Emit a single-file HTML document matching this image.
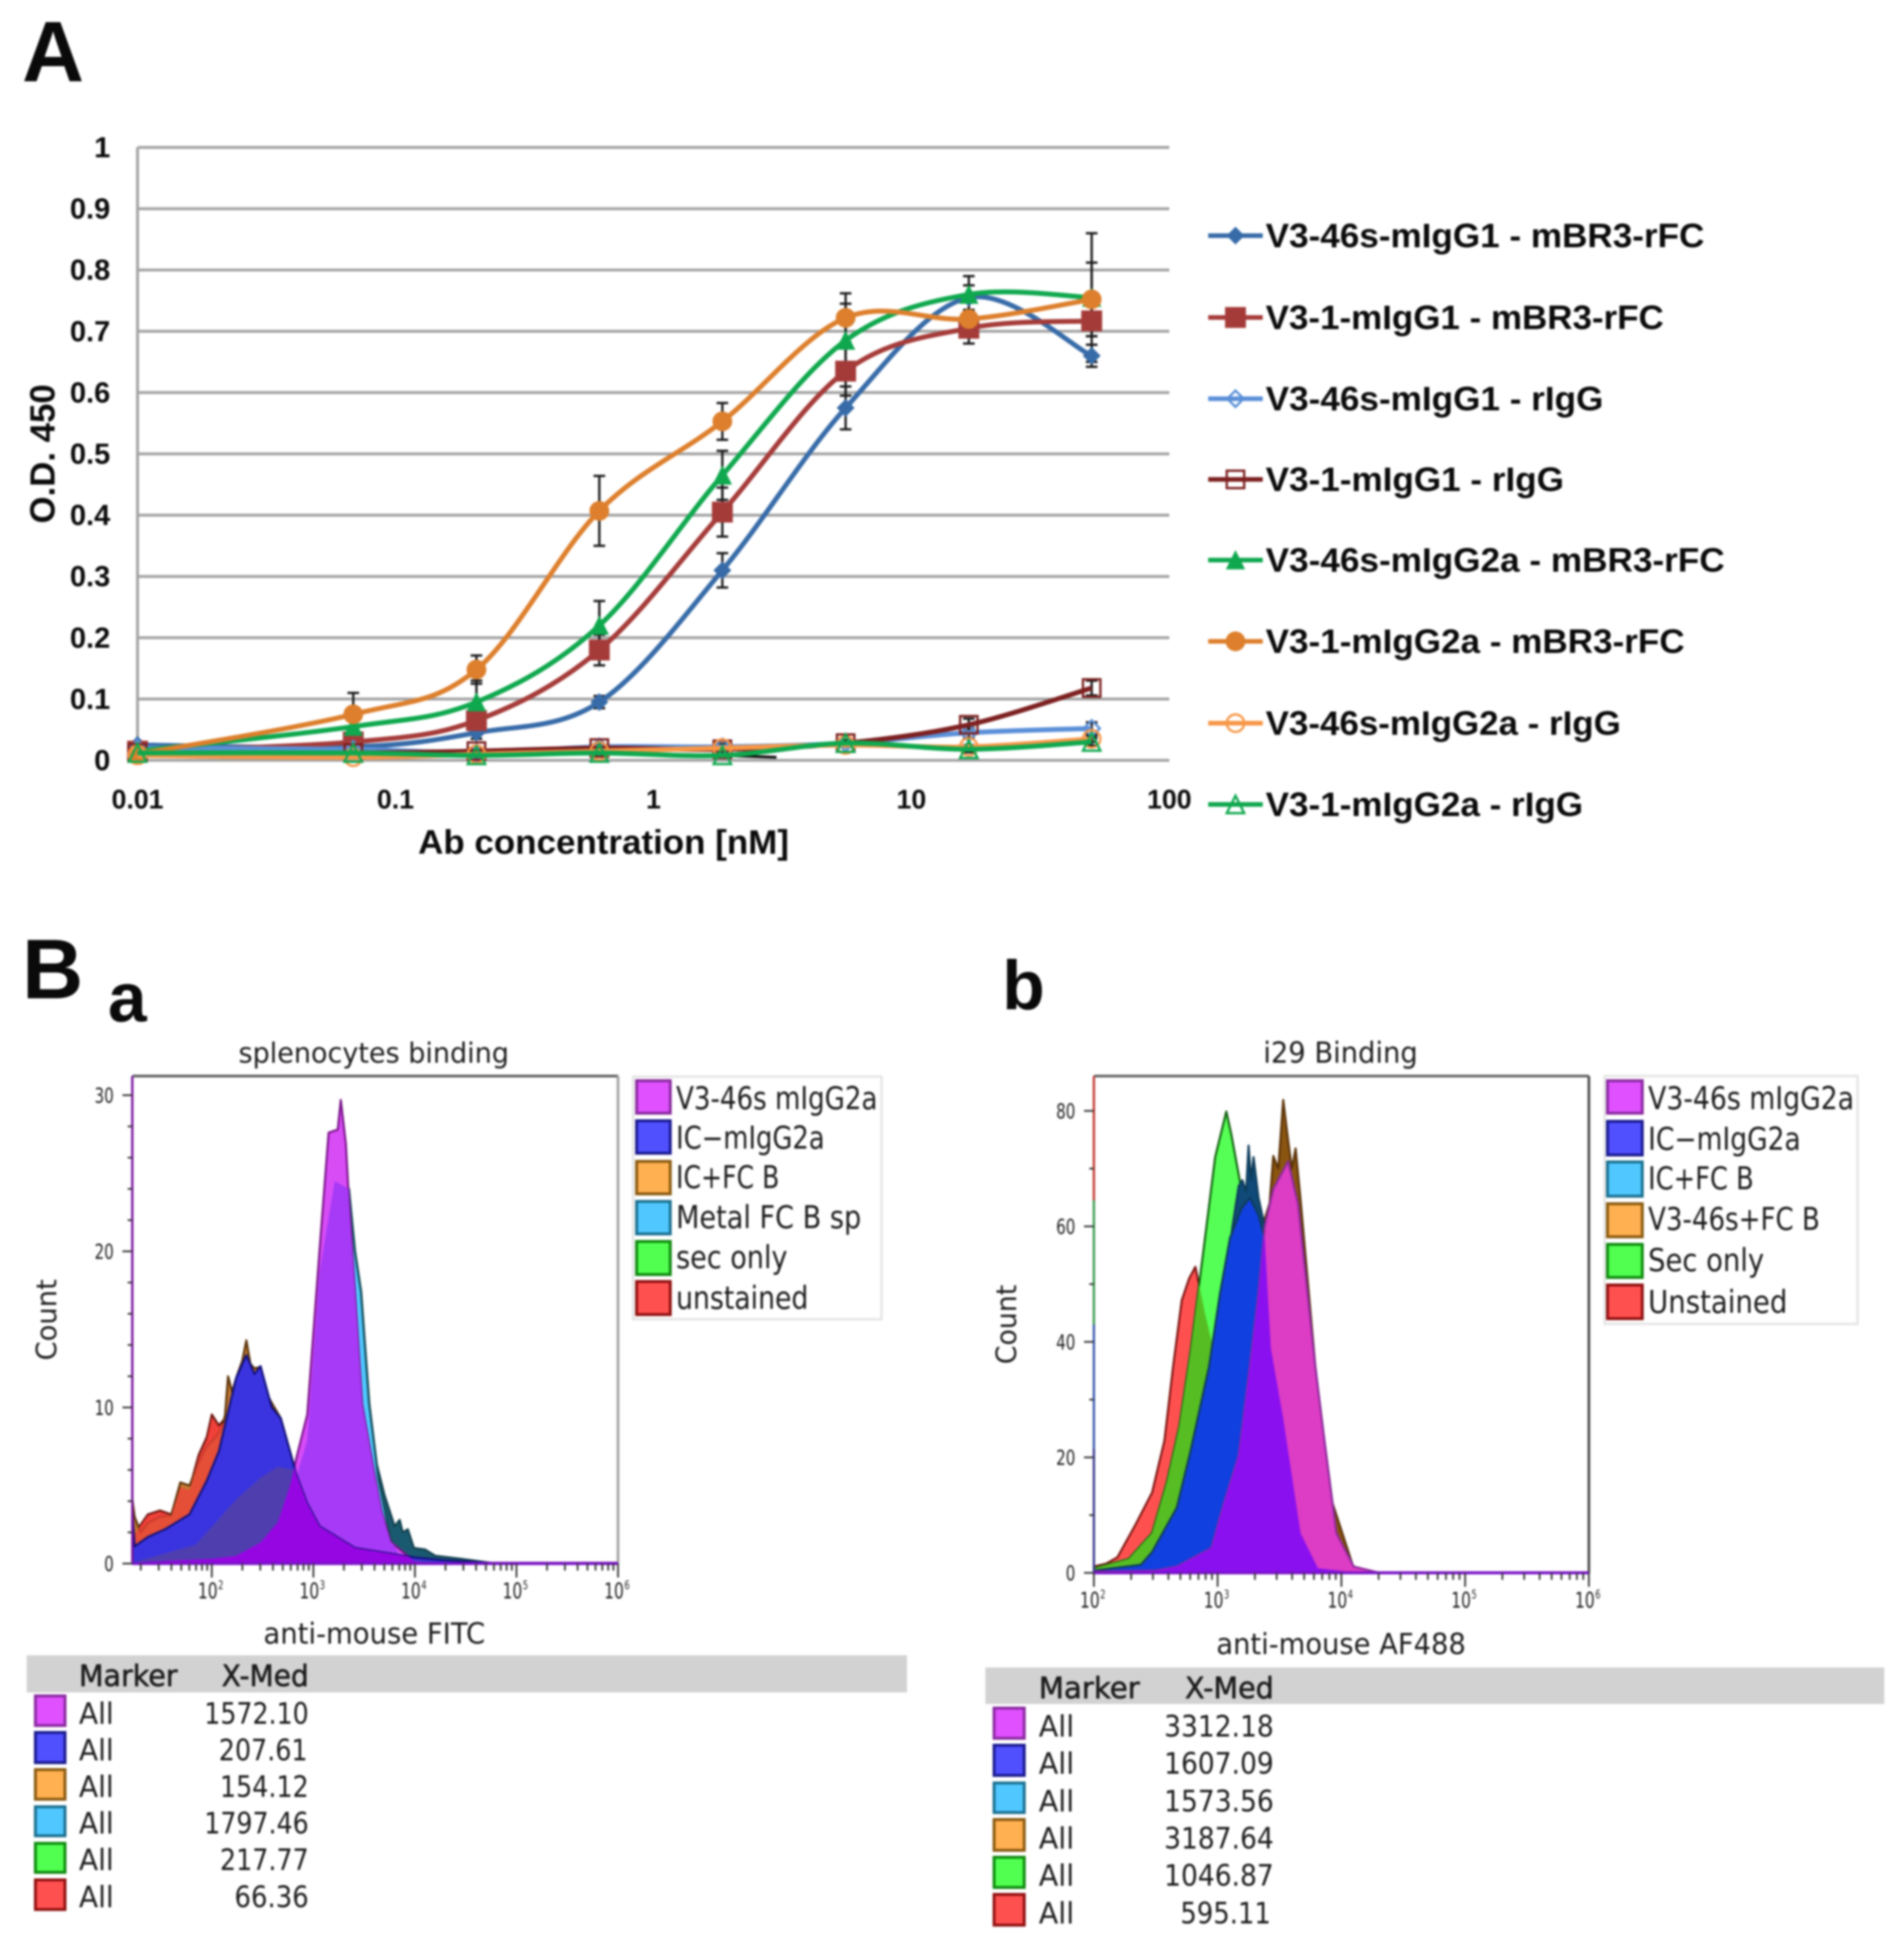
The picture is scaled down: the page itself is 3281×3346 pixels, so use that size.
<!DOCTYPE html>
<html lang="en">
<head>
<meta charset="utf-8">
<title>ELISA binding curves and flow cytometry histograms</title>
<style>
html,body{margin:0;padding:0;background:#fff}
#figure{display:block;width:3281px;height:3346px;filter:blur(1.8px)}
.a{font-family:"Liberation Sans",sans-serif;font-weight:700;fill:#0a0a0a}
.f{font-family:"DejaVu Sans","Liberation Sans",sans-serif;fill:#1c1c1c}
.h{stroke:#1c1c1c;stroke-width:1px}
</style>
</head>
<body>
<svg id="figure" xmlns="http://www.w3.org/2000/svg" width="3281" height="3346" viewBox="0 0 3281 3346">
<rect x="0" y="0" width="3281" height="3346" fill="#fff"/>
<text class="a" x="38" y="140" font-size="148">A</text>
<text class="a" x="38" y="1720" font-size="146">B</text>
<text class="a" x="186" y="1760" font-size="120">a</text>
<text class="a" x="1727" y="1739" font-size="120">b</text>

<g id="chartA"></g>
<text class="a" x="1040" y="1471" font-size="58" text-anchor="middle" textLength="639" lengthAdjust="spacingAndGlyphs">Ab concentration [nM]</text>
<text class="a" transform="translate(94 782) rotate(-90)" font-size="60" text-anchor="middle" textLength="240" lengthAdjust="spacingAndGlyphs">O.D. 450</text>

<text class="f" x="644" y="1831" font-size="48" text-anchor="middle" textLength="466" lengthAdjust="spacingAndGlyphs">splenocytes binding</text>
<g id="histA"></g>
<text class="f" transform="translate(97 2274) rotate(-90)" font-size="48" text-anchor="middle" textLength="140" lengthAdjust="spacingAndGlyphs">Count</text>
<text class="f" x="645" y="2832" font-size="50" text-anchor="middle" textLength="382" lengthAdjust="spacingAndGlyphs">anti-mouse FITC</text>

<text class="f" x="2310" y="1831" font-size="50" text-anchor="middle" textLength="266" lengthAdjust="spacingAndGlyphs">i29 Binding</text>
<g id="histB"></g>
<text class="f" transform="translate(1751 2282) rotate(-90)" font-size="48" text-anchor="middle" textLength="137" lengthAdjust="spacingAndGlyphs">Count</text>
<text class="f" x="2311" y="2850" font-size="50" text-anchor="middle" textLength="430" lengthAdjust="spacingAndGlyphs">anti-mouse AF488</text>

<g font-size="54">
<rect x="1091" y="1855" width="428" height="418" fill="#fff" stroke="#e4e4e4" stroke-width="4"/>
<rect x="1097" y="1862" width="58" height="56" fill="#e050ff" stroke="#8a2aa0" stroke-width="5"/>
<text class="f" x="1165" y="1911" textLength="347" lengthAdjust="spacingAndGlyphs">V3-46s mIgG2a</text>
<rect x="1097" y="1931" width="58" height="56" fill="#5050ff" stroke="#1a1a90" stroke-width="5"/>
<text class="f" x="1165" y="1979" textLength="256" lengthAdjust="spacingAndGlyphs">IC−mIgG2a</text>
<rect x="1097" y="2001" width="58" height="56" fill="#ffb050" stroke="#8a5a10" stroke-width="5"/>
<text class="f" x="1165" y="2047" textLength="178" lengthAdjust="spacingAndGlyphs">IC+FC B</text>
<rect x="1097" y="2070" width="58" height="56" fill="#50c8ff" stroke="#1a7090" stroke-width="5"/>
<text class="f" x="1165" y="2116" textLength="319" lengthAdjust="spacingAndGlyphs">Metal FC B sp</text>
<rect x="1097" y="2139" width="58" height="57" fill="#50ff50" stroke="#108a10" stroke-width="5"/>
<text class="f" x="1165" y="2185" textLength="192" lengthAdjust="spacingAndGlyphs">sec only</text>
<rect x="1097" y="2208" width="58" height="57" fill="#ff5050" stroke="#901010" stroke-width="5"/>
<text class="f" x="1165" y="2255" textLength="228" lengthAdjust="spacingAndGlyphs">unstained</text>
</g>

<g font-size="54">
<rect x="2765" y="1854" width="436" height="427" fill="#fff" stroke="#e4e4e4" stroke-width="4"/>
<rect x="2770" y="1862" width="60" height="56" fill="#e050ff" stroke="#8a2aa0" stroke-width="5"/>
<text class="f" x="2840" y="1911" textLength="355" lengthAdjust="spacingAndGlyphs">V3-46s mIgG2a</text>
<rect x="2770" y="1932" width="60" height="58" fill="#5050ff" stroke="#1a1a90" stroke-width="5"/>
<text class="f" x="2840" y="1981" textLength="263" lengthAdjust="spacingAndGlyphs">IC−mIgG2a</text>
<rect x="2770" y="2002" width="60" height="59" fill="#50c8ff" stroke="#1a7090" stroke-width="5"/>
<text class="f" x="2840" y="2049" textLength="182" lengthAdjust="spacingAndGlyphs">IC+FC B</text>
<rect x="2770" y="2074" width="60" height="57" fill="#ffb050" stroke="#8a5a10" stroke-width="5"/>
<text class="f" x="2840" y="2119" textLength="296" lengthAdjust="spacingAndGlyphs">V3-46s+FC B</text>
<rect x="2770" y="2144" width="60" height="57" fill="#50ff50" stroke="#108a10" stroke-width="5"/>
<text class="f" x="2840" y="2190" textLength="200" lengthAdjust="spacingAndGlyphs">Sec only</text>
<rect x="2770" y="2214" width="60" height="58" fill="#ff5050" stroke="#901010" stroke-width="5"/>
<text class="f" x="2840" y="2262" textLength="240" lengthAdjust="spacingAndGlyphs">Unstained</text>
</g>

<g font-size="51">
<rect x="46" y="2852" width="1517" height="64" fill="#d2d2d2"/>
<text class="f h" x="136" y="2905" textLength="170" lengthAdjust="spacingAndGlyphs">Marker</text>
<text class="f h" x="532" y="2905" text-anchor="end" textLength="150" lengthAdjust="spacingAndGlyphs">X-Med</text>
<rect x="61" y="2922" width="51" height="51" fill="#e050ff" stroke="#8a2aa0" stroke-width="5"/>
<text class="f" x="136" y="2970" textLength="60" lengthAdjust="spacingAndGlyphs">All</text>
<text class="f" x="532" y="2970" text-anchor="end" textLength="180" lengthAdjust="spacingAndGlyphs">1572.10</text>
<rect x="61" y="2985" width="51" height="52" fill="#5050ff" stroke="#1a1a90" stroke-width="5"/>
<text class="f" x="136" y="3033" textLength="60" lengthAdjust="spacingAndGlyphs">All</text>
<text class="f" x="530" y="3033" text-anchor="end" textLength="153" lengthAdjust="spacingAndGlyphs">207.61</text>
<rect x="61" y="3049" width="51" height="51" fill="#ffb050" stroke="#8a5a10" stroke-width="5"/>
<text class="f" x="136" y="3096" textLength="60" lengthAdjust="spacingAndGlyphs">All</text>
<text class="f" x="532" y="3096" text-anchor="end" textLength="153" lengthAdjust="spacingAndGlyphs">154.12</text>
<rect x="61" y="3113" width="51" height="50" fill="#50c8ff" stroke="#1a7090" stroke-width="5"/>
<text class="f" x="136" y="3159" textLength="60" lengthAdjust="spacingAndGlyphs">All</text>
<text class="f" x="532" y="3159" text-anchor="end" textLength="180" lengthAdjust="spacingAndGlyphs">1797.46</text>
<rect x="61" y="3176" width="51" height="50" fill="#50ff50" stroke="#108a10" stroke-width="5"/>
<text class="f" x="136" y="3222" textLength="60" lengthAdjust="spacingAndGlyphs">All</text>
<text class="f" x="532" y="3222" text-anchor="end" textLength="153" lengthAdjust="spacingAndGlyphs">217.77</text>
<rect x="61" y="3239" width="51" height="51" fill="#ff5050" stroke="#901010" stroke-width="5"/>
<text class="f" x="136" y="3286" textLength="60" lengthAdjust="spacingAndGlyphs">All</text>
<text class="f" x="532" y="3286" text-anchor="end" textLength="128" lengthAdjust="spacingAndGlyphs">66.36</text>
</g>

<g font-size="51">
<rect x="1698" y="2873" width="1549" height="63" fill="#d2d2d2"/>
<text class="f h" x="1790" y="2926" textLength="174" lengthAdjust="spacingAndGlyphs">Marker</text>
<text class="f h" x="2195" y="2926" text-anchor="end" textLength="153" lengthAdjust="spacingAndGlyphs">X-Med</text>
<rect x="1713" y="2943" width="52" height="52" fill="#e050ff" stroke="#8a2aa0" stroke-width="5"/>
<text class="f" x="1790" y="2992" textLength="61" lengthAdjust="spacingAndGlyphs">All</text>
<text class="f" x="2195" y="2992" text-anchor="end" textLength="189" lengthAdjust="spacingAndGlyphs">3312.18</text>
<rect x="1713" y="3007" width="52" height="52" fill="#5050ff" stroke="#1a1a90" stroke-width="5"/>
<text class="f" x="1790" y="3056" textLength="61" lengthAdjust="spacingAndGlyphs">All</text>
<text class="f" x="2195" y="3056" text-anchor="end" textLength="189" lengthAdjust="spacingAndGlyphs">1607.09</text>
<rect x="1713" y="3072" width="52" height="51" fill="#50c8ff" stroke="#1a7090" stroke-width="5"/>
<text class="f" x="1790" y="3121" textLength="61" lengthAdjust="spacingAndGlyphs">All</text>
<text class="f" x="2195" y="3121" text-anchor="end" textLength="189" lengthAdjust="spacingAndGlyphs">1573.56</text>
<rect x="1713" y="3135" width="52" height="53" fill="#ffb050" stroke="#8a5a10" stroke-width="5"/>
<text class="f" x="1790" y="3185" textLength="61" lengthAdjust="spacingAndGlyphs">All</text>
<text class="f" x="2195" y="3185" text-anchor="end" textLength="189" lengthAdjust="spacingAndGlyphs">3187.64</text>
<rect x="1713" y="3200" width="52" height="52" fill="#50ff50" stroke="#108a10" stroke-width="5"/>
<text class="f" x="1790" y="3249" textLength="61" lengthAdjust="spacingAndGlyphs">All</text>
<text class="f" x="2195" y="3249" text-anchor="end" textLength="189" lengthAdjust="spacingAndGlyphs">1046.87</text>
<rect x="1713" y="3264" width="52" height="53" fill="#ff5050" stroke="#901010" stroke-width="5"/>
<text class="f" x="1790" y="3314" textLength="61" lengthAdjust="spacingAndGlyphs">All</text>
<text class="f" x="2190" y="3314" text-anchor="end" textLength="156" lengthAdjust="spacingAndGlyphs">595.11</text>
</g>
</svg>

<script>
/* ---------- Panel A data ---------- */
var concentrations = [0.01, 0.0686, 0.206, 0.617, 1.85, 5.56, 16.7, 50];
var xTickLabels = ['0.01', '0.1', '1', '10', '100'];
var yTickLabels = ['0', '0.1', '0.2', '0.3', '0.4', '0.5', '0.6', '0.7', '0.8', '0.9', '1'];
var seriesNames = ['V3-46s-mIgG1 - mBR3-rFC', 'V3-1-mIgG1 - mBR3-rFC', 'V3-46s-mIgG1 - rIgG', 'V3-1-mIgG1 - rIgG', 'V3-46s-mIgG2a - mBR3-rFC', 'V3-1-mIgG2a - mBR3-rFC', 'V3-46s-mIgG2a - rIgG', 'V3-1-mIgG2a - rIgG'];
var od46G1Br3 = [0.025, 0.022, 0.045, 0.095, 0.31, 0.575, 0.755, 0.66];
var od1G1Br3 = [0.015, 0.03, 0.065, 0.18, 0.405, 0.635, 0.705, 0.717];
var od46G1Rigg = [0.02, 0.018, 0.012, 0.022, 0.022, 0.028, 0.045, 0.052];
var od1G1Rigg = [0.012, 0.012, 0.015, 0.02, 0.018, 0.028, 0.058, 0.118];
var od46G2aBr3 = [0.015, 0.055, 0.095, 0.22, 0.465, 0.685, 0.76, 0.755];
var od1G2aBr3 = [0.01, 0.075, 0.148, 0.407, 0.553, 0.722, 0.72, 0.752];
var od46G2aRigg = [0.008, 0.005, 0.01, 0.015, 0.02, 0.025, 0.022, 0.035];
var od1G2aRigg = [0.012, 0.012, 0.008, 0.012, 0.008, 0.028, 0.018, 0.03];
var err46G1Br3 = [0, 0, 0.01, 0.01, 0.028, 0.035, 0.02, 0.018];
var err1G1Br3 = [0, 0, 0.015, 0.025, 0.04, 0.04, 0.025, 0.025];
var err46G1Rigg = [0, 0, 0.005, 0.005, 0.005, 0.005, 0.008, 0.01];
var err1G1Rigg = [0, 0, 0.005, 0.005, 0.005, 0.005, 0.01, 0.012];
var err46G2aBr3 = [0, 0, 0.035, 0.04, 0.04, 0.06, 0.03, 0.105];
var err1G2aBr3 = [0, 0.035, 0.023, 0.057, 0.03, 0.04, 0.01, 0.06];
var err46G2aRigg = [0, 0, 0.003, 0.003, 0.003, 0.003, 0.003, 0.005];
var err1G2aRigg = [0, 0, 0.003, 0.003, 0.003, 0.003, 0.005, 0.006];
var blackTraceConc = [0.0686, 0.206, 0.617, 1.85, 3];
var blackTraceOd = [0.016, 0.015, 0.012, 0.008, 0.005];

/* ---------- Histogram a data: log10 fluorescence and count ---------- */
var aUnstainedLog = [1.22, 1.24, 1.37, 1.49, 1.6, 1.69, 1.78, 1.87, 1.95, 2, 2.07, 2.13, 2.24, 2.4, 2.6, 2.8, 3, 3.3, 3.6];
var aUnstainedCount = [4, 1.95, 3.15, 3.4, 3.15, 5, 4.8, 6.95, 8.1, 9.55, 8.85, 9.3, 9, 8, 5, 2.5, 1, 0.3, 0.1];
var aOrangeLog = [1.22, 1.24, 1.3, 1.37, 1.49, 1.6, 1.69, 1.78, 1.87, 1.95, 2.05, 2.1, 2.13, 2.16, 2.2, 2.24, 2.3, 2.34, 2.38, 2.42, 2.48, 2.53, 2.59, 2.68, 2.77, 2.83, 2.94, 3.06, 3.18, 3.41, 3.7, 3.99, 4.55, 4.7];
var aOrangeCount = [4, 3, 2, 2.6, 3, 3.1, 5.2, 5, 6.5, 7.5, 8.2, 8.7, 9.5, 12, 11, 11.9, 13, 14.3, 12.8, 12.5, 12.6, 11, 10.3, 9.3, 7.2, 5.8, 3.7, 2.4, 1.95, 1.1, 0.75, 0.3, 0.1, 0];
var aTailLog = [3.6, 3.7, 3.76, 3.8, 3.85, 3.88, 3.93, 3.99, 4.1, 4.2, 4.46, 4.69, 4.8];
var aTailCount = [7, 4.4, 3.2, 2.4, 2.8, 2, 2.2, 1, 0.9, 0.5, 0.3, 0.1, 0];
var aMetalLog = [2.5, 2.83, 2.94, 3.06, 3.21, 3.35, 3.41, 3.47, 3.55, 3.64, 3.76, 3.85, 3.99];
var aMetalCount = [0.5, 5.5, 7.9, 18.6, 24.5, 24, 20, 17.4, 10.25, 5.5, 1.6, 0.5, 0.1];
var aMagentaLog = [1.22, 1.3, 2, 2.24, 2.48, 2.65, 2.77, 2.83, 2.94, 3.06, 3.15, 3.24, 3.27, 3.32, 3.35, 3.41, 3.48, 3.6, 3.67, 3.76, 3.99, 4.11, 6];
var aMagentaCount = [0.05, 0.1, 0.3, 0.5, 1.35, 2.65, 5, 6.7, 9.55, 20, 27.6, 27.8, 29.7, 26.9, 23.3, 17.4, 10.25, 5.8, 3.4, 1.4, 0.17, 0.05, 0.05];
var aBlueLog = [1.22, 1.24, 1.37, 1.54, 1.78, 1.95, 2.07, 2.18, 2.24, 2.34, 2.42, 2.48, 2.59, 2.68, 2.77, 2.83, 2.94, 3.06, 3.41, 3.99, 4.3, 4.6, 4.8];
var aBlueCount = [3.2, 1.1, 1.7, 2.2, 3.15, 5.3, 7.2, 10.25, 11.9, 13.35, 12.15, 12.65, 10, 9.3, 7.2, 5.75, 3.85, 2.4, 1, 0.4, 0.2, 0.1, 0];
var aSecLog = [1.22, 1.24, 1.84, 2.24, 2.48, 2.65, 2.83, 3, 3.3, 3.8, 4.4];
var aSecCount = [0.6, 0.1, 1.2, 4.1, 5.5, 6.2, 6, 3.4, 1, 0.3, 0];

/* ---------- Histogram b data ---------- */
var bUnstainedLog = [2, 2.1, 2.19, 2.33, 2.47, 2.57, 2.64, 2.71, 2.77, 2.82, 2.9, 3, 3.14, 3.33, 3.53];
var bUnstainedCount = [1.1, 1.6, 2.7, 8.1, 13.9, 22.9, 35.7, 47.2, 51, 53, 44.7, 35.7, 16.5, 3.7, 0.4];
var bSecLog = [2, 2.28, 2.47, 2.59, 2.69, 2.78, 2.88, 2.98, 3.07, 3.11, 3.17, 3.29, 3.38, 3.48, 3.67, 3.91];
var bSecCount = [0.8, 2.4, 6.9, 15.8, 25.4, 38.3, 54.9, 72, 79.9, 76, 69, 54.9, 42.1, 22.9, 6.9, 0.4];
var bTealLog = [3.05, 3.12, 3.17, 3.2, 3.23, 3.25, 3.27, 3.29, 3.33, 3.38, 3.43];
var bTealCount = [48, 60, 67, 68, 66, 74, 68, 72, 65, 60, 45];
var bBlueLog = [2, 2.38, 2.47, 2.67, 2.78, 2.93, 3.02, 3.1, 3.19, 3.26, 3.33, 3.38, 3.43, 3.53, 3.67, 3.81, 4.1];
var bBlueCount = [0.4, 1.4, 3.6, 11.3, 21, 35.7, 48.5, 58, 63, 65, 62, 58, 38.9, 26.7, 6.9, 0.8, 0.1];
var bOrangeLog = [3.14, 3.29, 3.38, 3.42, 3.45, 3.49, 3.53, 3.57, 3.6, 3.63, 3.67, 3.79, 3.91, 4.1];
var bOrangeCount = [3.7, 22.9, 61.3, 64, 72.2, 70, 81.9, 74.8, 70, 73.5, 64.6, 35.7, 13.3, 0.8];
var bMagentaLog = [2, 2.5, 2.67, 2.95, 3.05, 3.17, 3.26, 3.33, 3.38, 3.45, 3.57, 3.65, 3.79, 3.86, 3.96, 4.1, 4.29, 6];
var bMagentaCount = [0.2, 0.4, 1.1, 4.3, 12, 20.3, 35.7, 48.5, 60, 66.5, 71.3, 63.9, 35.7, 23.5, 6.9, 1.1, 0.1, 0.1];

var histTickLabelsA = ['0', '10', '20', '30'];
var histTickLabelsB = ['0', '20', '40', '60', '80'];
var decadeExponents = ['2', '3', '4', '5', '6'];

/* ---------- helpers ---------- */
var NS = 'http://www.w3.org/2000/svg';
function mk(tag, attrs, parent) {
  var n = document.createElementNS(NS, tag);
  for (var k in attrs) n.setAttribute(k, attrs[k]);
  parent.appendChild(n);
  return n;
}

/* ---------- Panel A ---------- */
var chartA = document.getElementById('chartA');
function xA(c) { return 237 + (Math.log(c) / Math.LN10 + 2) * 444.5; }
function yA(v) { return 1310 - v * 1056; }

yTickLabels.forEach(function (t) {
  var v = parseFloat(t);
  var g = mk('line', {x1: xA(0.01), x2: xA(100), y1: yA(v), y2: yA(v), stroke: '#a3a3a3', 'stroke-width': 5}, chartA);
  
  
  var l = mk('text', {x: 190, y: yA(v) + 17, 'text-anchor': 'end', 'font-size': 50, class: 'a'}, chartA);
  l.textContent = t;
  
  
});
var axisLine = mk('line', {x1: xA(0.01), x2: xA(0.01), y1: yA(1), y2: yA(0), stroke: '#a3a3a3', 'stroke-width': 5}, chartA);


xTickLabels.forEach(function (t) {
  var l = mk('text', {x: xA(parseFloat(t)), y: 1393, 'text-anchor': 'middle', 'font-size': 46, class: 'a'}, chartA);
  l.textContent = t;
  
  
});

function marker(shape, x, y, color, parent, r) {
  var hollow = shape.indexOf('open') === 0;
  var a = {fill: hollow ? 'none' : color, stroke: color, 'stroke-width': hollow ? 4 : 2};
  var kind = shape.replace('open-', '');
  var n;
  if (kind === 'diamond') { a.points = [x, y - r, x + r, y, x, y + r, x - r, y].join(','); n = mk('polygon', a, parent); }
  if (kind === 'square') { a.x = x - r; a.y = y - r; a.width = 2 * r; a.height = 2 * r; n = mk('rect', a, parent); }
  if (kind === 'triangle') { a.points = [x, y - r, x + r, y + r, x - r, y + r].join(','); n = mk('polygon', a, parent); }
  if (kind === 'circle') { a.cx = x; a.cy = y; a.r = r; n = mk('circle', a, parent); }
  return n;
}
function smooth(pts) {
  var d = 'M' + pts[0][0] + ' ' + pts[0][1];
  for (var i = 0; i < pts.length - 1; i++) {
    var p0 = pts[i - 1] || pts[i], p1 = pts[i], p2 = pts[i + 1], p3 = pts[i + 2] || p2;
    var c1x = p1[0] + (p2[0] - p0[0]) / 6, c1y = p1[1] + (p2[1] - p0[1]) / 6;
    var c2x = p2[0] - (p3[0] - p1[0]) / 6, c2y = p2[1] - (p3[1] - p1[1]) / 6;
    d += 'C' + c1x + ' ' + c1y + ' ' + c2x + ' ' + c2y + ' ' + p2[0] + ' ' + p2[1];
  }
  return d;
}
var seriesValues = [od46G1Br3, od1G1Br3, od46G1Rigg, od1G1Rigg, od46G2aBr3, od1G2aBr3, od46G2aRigg, od1G2aRigg];
var seriesErrors = [err46G1Br3, err1G1Br3, err46G1Rigg, err1G1Rigg, err46G2aBr3, err1G2aBr3, err46G2aRigg, err1G2aRigg];
var seriesColors = ['#376ba8', '#a53b39', '#5a8fd8', '#7d2020', '#0fa84e', '#dd7f2c', '#f79646', '#0fa84e'];
var seriesShapes = ['diamond', 'square', 'open-diamond', 'open-square', 'triangle', 'circle', 'open-circle', 'open-triangle'];
var seriesRadii = [14, 17, 14, 15, 15, 16, 15, 15];

var blackTrace = mk('path', {d: 'M' + blackTraceConc.map(function (c, i) { return xA(c) + ' ' + yA(blackTraceOd[i]); }).join('L'), fill: 'none', stroke: '#111', 'stroke-width': 5}, chartA);



seriesValues.forEach(function (vals, s) {
  var errs = seriesErrors[s];
  vals.forEach(function (v, i) {
    if (!errs[i]) return;
    var x = xA(concentrations[i]);
    var e = mk('path', {d: 'M' + x + ' ' + yA(v + errs[i]) + 'V' + yA(v - errs[i]) + 'M' + (x - 10) + ' ' + yA(v + errs[i]) + 'h20M' + (x - 10) + ' ' + yA(v - errs[i]) + 'h20', stroke: '#1a1a1a', 'stroke-width': 4, fill: 'none'}, chartA);
    
    
  });
});
seriesValues.forEach(function (vals, s) {
  var pts = vals.map(function (v, i) { return [xA(concentrations[i]), yA(v)]; });
  var line = mk('path', {d: smooth(pts), fill: 'none', stroke: seriesColors[s], 'stroke-width': 8.5, 'stroke-linejoin': 'round'}, chartA);
  
  
  pts.forEach(function (p) {
    var m = marker(seriesShapes[s], p[0], p[1], seriesColors[s], chartA, seriesRadii[s]);
    
    
  });
});

var legendRowY = [406, 547, 687, 826, 965, 1105, 1246, 1386];
var legendWidths = [756, 686, 582, 514, 791, 722, 612, 547];
seriesNames.forEach(function (name, s) {
  var y = legendRowY[s];
  var ln = mk('line', {x1: 2082, x2: 2176, y1: y, y2: y, stroke: seriesColors[s], 'stroke-width': 8}, chartA);
  
  
  var m = marker(seriesShapes[s], 2129, y, seriesColors[s], chartA, seriesRadii[s]);
  
  
  var t = mk('text', {x: 2181, y: y + 20, 'font-size': 58, class: 'a', textLength: legendWidths[s], lengthAdjust: 'spacingAndGlyphs'}, chartA);
  t.textContent = name;
  
  
});

/* ---------- Histograms ---------- */
var clipCounter = 0;
function makeHist(root, opt) {
  function px(l) { return opt.x2 + (l - 2) * opt.dec; }
  function py(c) { return opt.y0 - c * opt.unit; }
  function shape(logs, counts) {
    var d = 'M' + px(logs[0]) + ' ' + opt.y0;
    logs.forEach(function (l, i) { d += 'L' + px(l) + ' ' + py(counts[i]); });
    return d + 'L' + px(logs[logs.length - 1]) + ' ' + opt.y0 + 'Z';
  }
  return {
    px: px, py: py,
    fill: function (logs, counts, color, edge, name, width) {
      var p = mk('path', {d: shape(logs, counts), fill: color, stroke: edge, 'stroke-width': width || 3.5, 'stroke-linejoin': 'round'}, root);
      
      
    },
    overlap: function (logs, counts, clipLogs, clipCounts, color, name) {
      var id = 'clip' + (++clipCounter);
      var c = mk('clipPath', {id: id}, root);
      mk('path', {d: shape(clipLogs, clipCounts)}, c);
      var p = mk('path', {d: shape(logs, counts), fill: color, 'clip-path': 'url(#' + id + ')'}, root);
      
      
    }
  };
}
function histFrame(root, opt, hist, labels, leftColors) {
  var top = mk('line', {x1: opt.left, x2: opt.right, y1: opt.top, y2: opt.top, stroke: opt.topFrame, 'stroke-width': 4.5}, root);
  
  
  var right = mk('line', {x1: opt.right, x2: opt.right, y1: opt.top, y2: opt.y0, stroke: opt.rightFrame, 'stroke-width': 4.5}, root);
  
  
  leftColors.forEach(function (col, i) {
    var h = (opt.y0 - opt.top) / leftColors.length;
    var left = mk('line', {x1: opt.left, x2: opt.left, y1: opt.top + i * h, y2: opt.top + (i + 1) * h, stroke: col, 'stroke-width': 4}, root);
    
    
  });
  var base = mk('line', {x1: opt.left, x2: opt.right, y1: opt.y0, y2: opt.y0, stroke: '#7a14c8', 'stroke-width': 5}, root);
  
  
  var yt = '', step = opt.minorY;
  for (var v = 0; v <= opt.maxY; v += step) {
    var major = labels.indexOf(String(v)) >= 0;
    yt += 'M' + opt.left + ' ' + hist.py(v) + 'h' + (major ? -17 : -8);
  }
  var yTicks = mk('path', {d: yt, stroke: '#333', 'stroke-width': 3, fill: 'none'}, root);
  
  
  labels.forEach(function (t) {
    var l = mk('text', {x: opt.left - 32, y: hist.py(parseFloat(t)) + 13, 'text-anchor': 'end', 'font-size': 36, class: 'f', textLength: t.length * 16.5, lengthAdjust: 'spacingAndGlyphs'}, root);
    l.textContent = t;
    
    
  });
  var xt = '';
  for (var d = 1; d < 6; d++) {
    for (var m = 1; m < 10; m++) {
      var lg = d + Math.log(m) / Math.LN10;
      if (hist.px(lg) < opt.left) continue;
      xt += 'M' + hist.px(lg) + ' ' + opt.y0 + 'v' + (m === 1 ? 24 : 12);
    }
  }
  xt += 'M' + opt.right + ' ' + opt.y0 + 'v24';
  var xTicks = mk('path', {d: xt, stroke: '#333', 'stroke-width': 3, fill: 'none'}, root);
  
  
  decadeExponents.forEach(function (e) {
    var x = hist.px(parseFloat(e));
    var l = mk('text', {x: x - 24, y: opt.labelY, 'font-size': 37, class: 'f', textLength: 34, lengthAdjust: 'spacingAndGlyphs'}, root);
    l.textContent = '10';
    
    
    var s = mk('text', {x: x + 11, y: opt.labelY - 16, 'font-size': 20, class: 'f', textLength: 9, lengthAdjust: 'spacingAndGlyphs'}, root);
    s.textContent = e;
    
    
  });
}

var histAEl = document.getElementById('histA');
var optA = {x2: 365, dec: 175, y0: 2694, unit: 26.9, left: 228, right: 1065, top: 1854, topFrame: '#5a5a5a', rightFrame: '#a0a0a0', minorY: 2, maxY: 30, labelY: 2754};
var hA = makeHist(histAEl, optA);
hA.fill(aUnstainedLog, aUnstainedCount, '#f0403a', '#6a1410', 'unstained-histogram');
hA.fill(aOrangeLog, aOrangeCount, '#c47a32', '#5a3208', 'ic-fc-histogram');
hA.fill(aUnstainedLog, aUnstainedCount.map(function (c) { return c * 0.98; }), 'rgba(240,64,58,0.75)', 'none', 'unstained-overlay');
hA.fill(aTailLog, aTailCount, '#1a5a70', '#12404e', 'metal-fc-tail');
hA.fill(aMetalLog, aMetalCount, '#4fc8ff', '#16505e', 'metal-fc-histogram', 4);
hA.fill(aMagentaLog, aMagentaCount, '#d84cf6', '#7a148a', 'v3-46s-histogram');
hA.overlap(aMetalLog, aMetalCount, aMagentaLog, aMagentaCount, '#a63af6', 'metal-v3-46s-overlap');
hA.fill(aBlueLog, aBlueCount, '#3a34e0', '#12107c', 'ic-mIgG2a-histogram');
hA.overlap(aSecLog, aSecCount, aBlueLog, aBlueCount, '#4f3fae', 'sec-only-overlap');
hA.overlap(aBlueLog, aBlueCount, aMagentaLog, aMagentaCount, '#9606e2', 'ic-v3-46s-overlap');
histFrame(histAEl, optA, hA, histTickLabelsA, ['#7a14a0']);

var histBEl = document.getElementById('histB');
var optB = {x2: 1885, dec: 213.25, y0: 2710, unit: 9.95, left: 1885, right: 2738, top: 1854, topFrame: '#606060', rightFrame: '#4a4a4a', minorY: 10, maxY: 80, labelY: 2770};
var hB = makeHist(histBEl, optB);
hB.fill(bUnstainedLog, bUnstainedCount, '#ff5050', '#7a1410', 'unstained-histogram');
hB.fill(bSecLog, bSecCount, '#55ff55', '#10600f', 'sec-only-histogram');
hB.overlap(bSecLog, bSecCount, bUnstainedLog, bUnstainedCount, '#56bd22', 'sec-unstained-overlap');
hB.fill(bOrangeLog, bOrangeCount, '#8a5510', '#5a3208', 'v3-46s-fc-histogram');
hB.fill(bTealLog, bTealCount, '#0f4a78', '#0e3c5a', 'ic-fc-histogram');
hB.fill(bBlueLog, bBlueCount, '#1040e0', '#0e3c5a', 'ic-histogram');
hB.fill(bMagentaLog, bMagentaCount, '#dd3cc4', '#8a2a9a', 'v3-46s-histogram');
hB.overlap(bBlueLog, bBlueCount, bMagentaLog, bMagentaCount, '#8a10f0', 'ic-v3-46s-overlap');
histFrame(histBEl, optB, hB, histTickLabelsB, ['#c03a30', '#3a9a50', '#3a5ab0', '#3a3a90']);
</script>
</body>
</html>
